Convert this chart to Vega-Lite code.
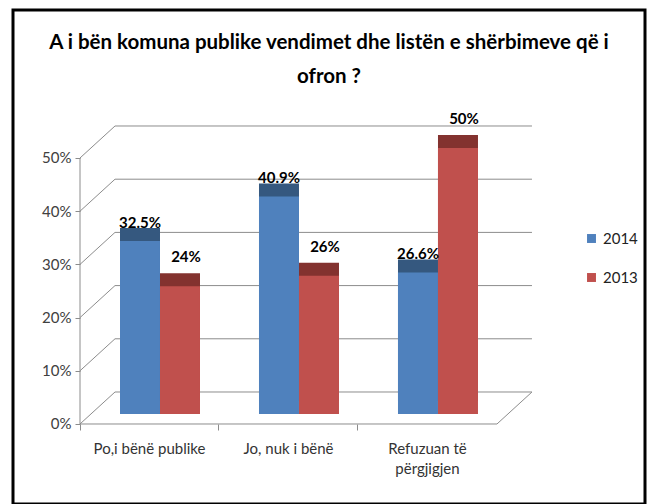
{
  "$schema": "https://vega.github.io/schema/vega-lite/v6.json",
  "width": 632,
  "height": 494,
  "padding": {"left": 13, "top": 10, "right": 6, "bottom": 0},
  "background": "white",
  "config": {
    "view": {"stroke": "black", "strokeWidth": 3},
    "font": "Lato"
  },
  "title": {
    "text": ["A i bën komuna publike vendimet dhe listën e shërbimeve që i", "ofron ?"],
    "anchor": "middle",
    "frame": "group",
    "font": "Lato",
    "fontSize": 20.5,
    "fontWeight": "bold",
    "color": "black",
    "lineHeight": 34,
    "offset": -77
  },
  "resolve": {"scale": {"color": "independent"}, "legend": {"color": "independent"}},
  "datasets": {
    "bars": [
      {"cat": "Po,i bënë publike", "year": "2014", "val": 0.325},
      {"cat": "Po,i bënë publike", "year": "2013", "val": 0.24},
      {"cat": "Jo, nuk i bënë", "year": "2014", "val": 0.409},
      {"cat": "Jo, nuk i bënë", "year": "2013", "val": 0.26},
      {"cat": "Refuzuan të përgjigjen", "year": "2014", "val": 0.266},
      {"cat": "Refuzuan të përgjigjen", "year": "2013", "val": 0.5}
    ],
    "grid": [
      {"v": 0, "from": "Po,i bënë publike", "to": "Refuzuan të përgjigjen"},
      {"v": 0.1, "from": "Po,i bënë publike", "to": "Refuzuan të përgjigjen"},
      {"v": 0.2, "from": "Po,i bënë publike", "to": "Refuzuan të përgjigjen"},
      {"v": 0.3, "from": "Po,i bënë publike", "to": "Refuzuan të përgjigjen"},
      {"v": 0.4, "from": "Po,i bënë publike", "to": "Refuzuan të përgjigjen"},
      {"v": 0.5, "from": "Po,i bënë publike", "to": "Refuzuan të përgjigjen"}
    ],
    "yline": [
      {"from": "Po,i bënë publike", "to": "Refuzuan të përgjigjen", "lo": 0, "hi": 0.5}
    ]
  },
  "layer": [
    {
      "data": {"name": "grid"},
      "mark": {"type": "rule", "color": "#8c8c8c", "strokeWidth": 1, "xOffset": 35, "x2Offset": 35, "yOffset": -32, "y2Offset": -32},
      "encoding": {
        "x": {
          "field": "from",
          "type": "nominal",
          "bandPosition": 0,
          "scale": {
            "domain": ["Po,i bënë publike", "Jo, nuk i bënë", "Refuzuan të përgjigjen"],
            "paddingInner": 0,
            "paddingOuter": 0.7735,
            "align": 0.3116
          },
          "axis": {
            "orient": "bottom",
            "offset": -80,
            "bandPosition": 0,
            "domain": false,
            "grid": false,
            "tickSize": 6,
            "tickColor": "#8c8c8c",
            "labelFontSize": 15,
            "labelColor": "#333333",
            "labelPadding": 11,
            "labelAngle": 0,
            "labelOverlap": false,
            "labelLineHeight": 20,
            "labelExpr": "datum.value == 'Refuzuan të përgjigjen' ? ['Refuzuan të', 'përgjigjen'] : datum.label",
            "title": null
          }
        },
        "x2": {"field": "to", "bandPosition": 1},
        "y": {
          "field": "v",
          "type": "quantitative",
          "scale": {"domain": [-0.1504, 0.7782], "nice": false, "zero": false},
          "axis": {
            "orient": "left",
            "offset": -67,
            "values": [0, 0.1, 0.2, 0.3, 0.4, 0.5],
            "format": ".0%",
            "grid": false,
            "domain": false,
            "tickSize": 5,
            "tickColor": "#8c8c8c",
            "labelFontSize": 15,
            "labelColor": "#404040",
            "labelPadding": 4,
            "title": null
          }
        }
      }
    },
    {
      "data": {"name": "grid"},
      "mark": {"type": "rule", "color": "#8c8c8c", "strokeWidth": 1, "x2Offset": 35, "y2Offset": -32},
      "encoding": {
        "x": {"field": "from", "type": "nominal", "bandPosition": 0},
        "x2": {"field": "from", "bandPosition": 0},
        "y": {"field": "v", "type": "quantitative"},
        "y2": {"field": "v"}
      }
    },
    {
      "data": {"name": "yline"},
      "mark": {"type": "rule", "color": "#8c8c8c", "strokeWidth": 1},
      "encoding": {
        "x": {"field": "from", "type": "nominal", "bandPosition": 0},
        "y": {"field": "lo", "type": "quantitative"},
        "y2": {"field": "hi"}
      }
    },
    {
      "data": {"name": "yline"},
      "mark": {"type": "rule", "color": "#8c8c8c", "strokeWidth": 1},
      "encoding": {
        "x": {"field": "from", "type": "nominal", "bandPosition": 0},
        "x2": {"field": "to", "bandPosition": 1},
        "y": {"field": "lo", "type": "quantitative"}
      }
    },
    {
      "data": {"name": "yline"},
      "mark": {"type": "rule", "color": "#8c8c8c", "strokeWidth": 1, "x2Offset": 35, "y2Offset": -32},
      "encoding": {
        "x": {"field": "to", "type": "nominal", "bandPosition": 1},
        "x2": {"field": "to", "bandPosition": 1},
        "y": {"field": "lo", "type": "quantitative"},
        "y2": {"field": "lo"}
      }
    },
    {
      "data": {"name": "bars"},
      "mark": {"type": "bar", "xOffset": 13, "x2Offset": 13, "yOffset": -23, "y2Offset": -23},
      "encoding": {
        "x": {"field": "cat", "type": "nominal"},
        "xOffset": {
          "field": "year",
          "type": "nominal",
          "scale": {"domain": ["2014", "2013"], "paddingInner": 0, "paddingOuter": 0.7375, "align": 0.678}
        },
        "y": {"field": "val", "type": "quantitative"},
        "color": {
          "field": "year",
          "type": "nominal",
          "scale": {"domain": ["2014", "2013"], "range": ["#35587F", "#83322F"]},
          "legend": null
        }
      }
    },
    {
      "data": {"name": "bars"},
      "mark": {"type": "bar", "yOffset": -10, "y2Offset": -10},
      "encoding": {
        "x": {"field": "cat", "type": "nominal"},
        "xOffset": {"field": "year", "type": "nominal"},
        "y": {"field": "val", "type": "quantitative"},
        "color": {
          "field": "year",
          "type": "nominal",
          "scale": {"domain": ["2014", "2013"], "range": ["#4F81BD", "#C0504D"]},
          "legend": {
            "orient": "none",
            "legendX": 571,
            "legendY": 221,
            "title": null,
            "symbolType": "square",
            "symbolSize": 80,
            "symbolStrokeWidth": 0,
            "labelFontSize": 15,
            "labelColor": "#222222",
            "rowPadding": 23,
            "padding": 0
          }
        }
      }
    },
    {
      "data": {"name": "bars"},
      "transform": [{"filter": "datum.year == '2014'"}],
      "mark": {"type": "text", "fontWeight": "bold", "fontSize": 15, "baseline": "middle", "dy": -28, "color": "black"},
      "encoding": {
        "x": {"field": "cat", "type": "nominal"},
        "xOffset": {"field": "year", "type": "nominal"},
        "y": {"field": "val", "type": "quantitative"},
        "text": {"field": "val", "type": "quantitative", "format": ".1~%"}
      }
    },
    {
      "data": {"name": "bars"},
      "transform": [{"filter": "datum.year == '2013'"}],
      "mark": {"type": "text", "fontWeight": "bold", "fontSize": 15, "baseline": "middle", "dy": -39, "dx": 6, "color": "black"},
      "encoding": {
        "x": {"field": "cat", "type": "nominal"},
        "xOffset": {"field": "year", "type": "nominal"},
        "y": {"field": "val", "type": "quantitative"},
        "text": {"field": "val", "type": "quantitative", "format": ".1~%"}
      }
    }
  ]
}
